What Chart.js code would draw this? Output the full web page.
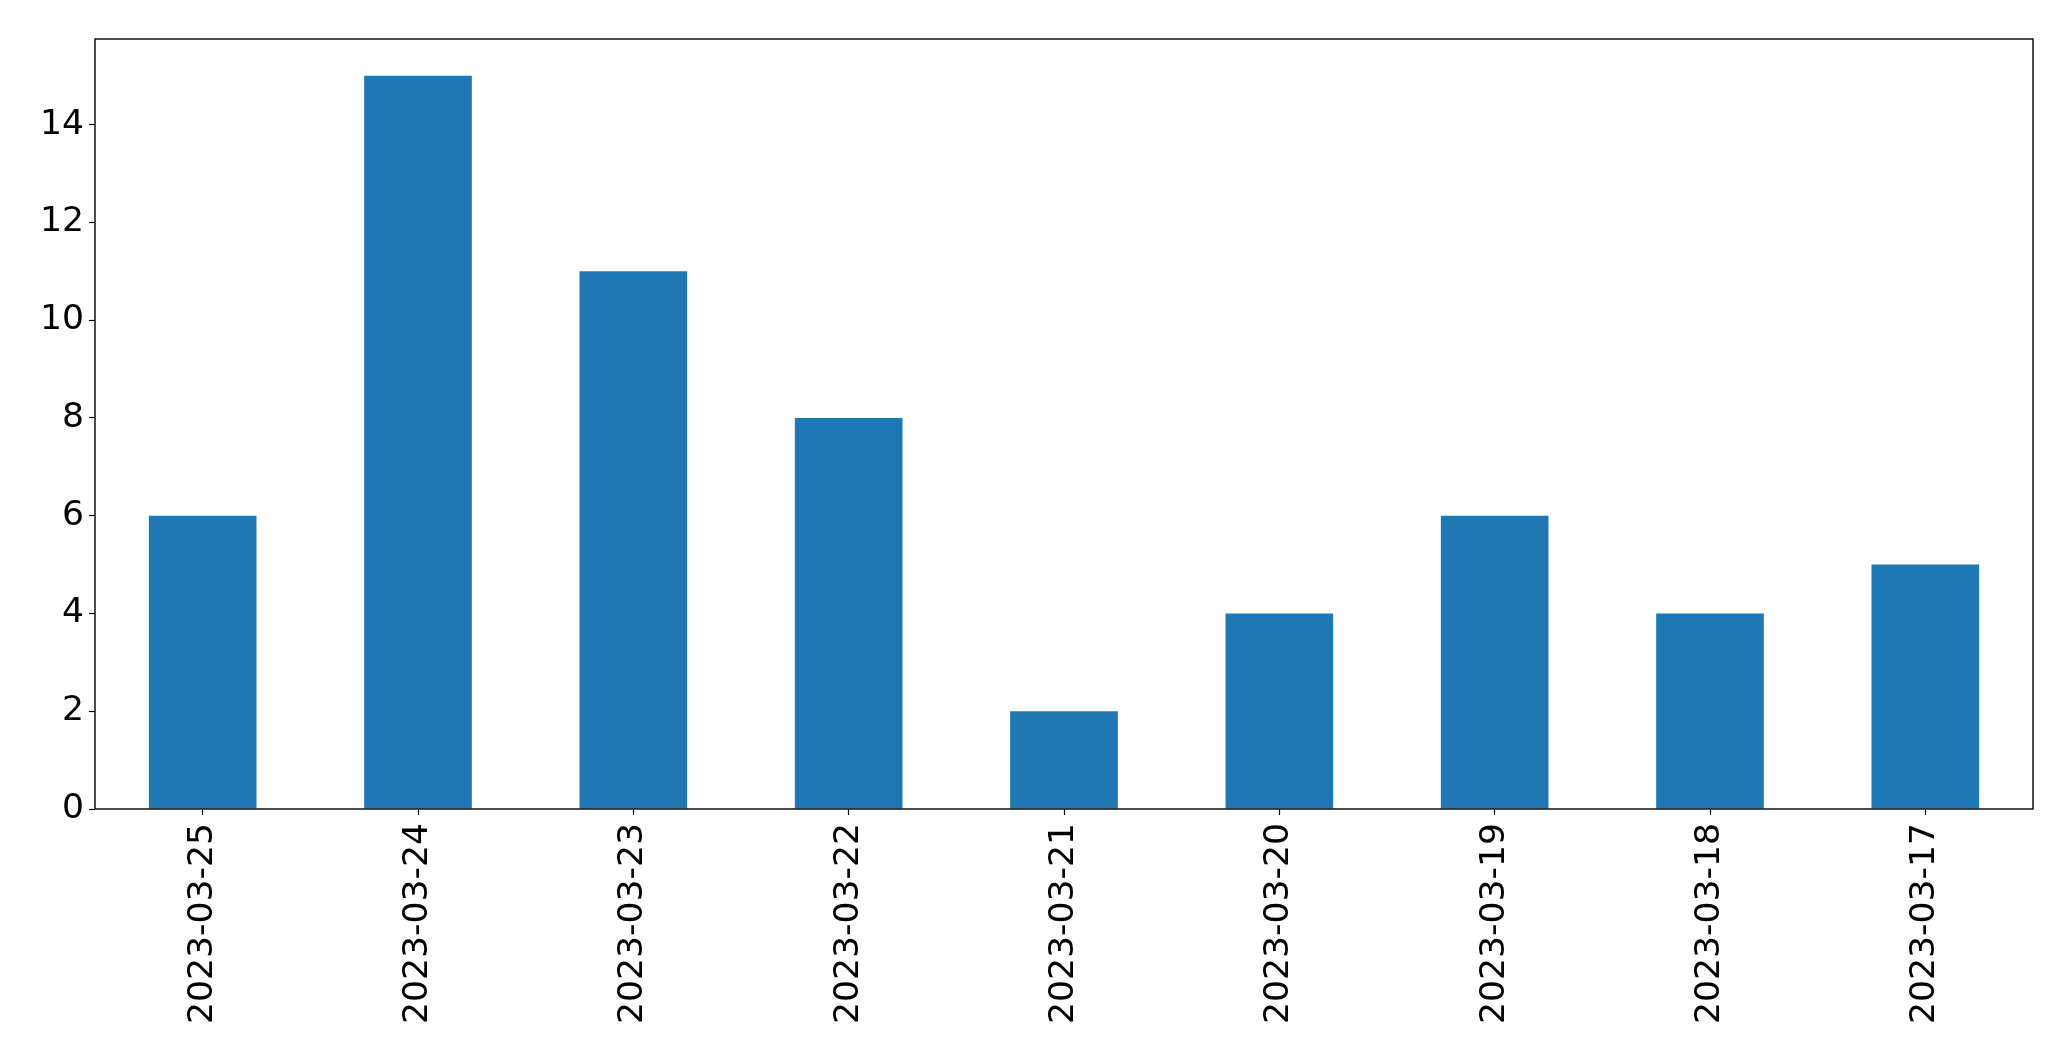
<!DOCTYPE html>
<html>
<head>
<meta charset="utf-8">
<script src="https://cdn.jsdelivr.net/npm/chart.js@4/dist/chart.umd.min.js"></script>
<style>
html,body{margin:0;padding:0;background:#fff;}
#wrap{width:2071px;height:1061px;position:relative;}
</style>
</head>
<body>
<div id="wrap"><canvas id="c"></canvas></div>
<script>
const categories = ["2023-03-25","2023-03-24","2023-03-23","2023-03-22","2023-03-21","2023-03-20","2023-03-19","2023-03-18","2023-03-17"];
const values = [6, 15, 11, 8, 2, 4, 6, 4, 5];
const yTicks = [0, 2, 4, 6, 8, 10, 12, 14];
const yMax = 15.75;

const frame = {
  id: 'frame',
  afterDraw(chart) {
    const {ctx, chartArea: a} = chart;
    ctx.save();
    ctx.strokeStyle = '#000';
    ctx.lineWidth = 1.4;
    ctx.strokeRect(a.left, a.top, a.right - a.left, a.bottom - a.top);
    ctx.restore();
  }
};

const font = {family: 'DejaVu Sans', size: 34.6};

new Chart(document.getElementById('c'), {
  type: 'bar',
  data: {
    labels: categories,
    datasets: [{
      data: values,
      backgroundColor: '#1f77b4',
      borderWidth: 0,
      barPercentage: 0.5,
      categoryPercentage: 1.0
    }]
  },
  options: {
    responsive: true,
    maintainAspectRatio: false,
    animation: false,
    layout: {padding: {top: 39, right: 38, left: 0, bottom: 0}},
    plugins: {legend: {display: false}, tooltip: {enabled: false}},
    scales: {
      x: {
        offset: true,
        grid: {display: true, drawOnChartArea: false, drawTicks: true, tickLength: 6, tickColor: '#000', tickWidth: 1.2, offset: false},
        border: {display: false},
        ticks: {color: '#000', font: font, maxRotation: 90, minRotation: 90, padding: 8, autoSkip: false},
        afterFit(scale) { scale.height = 1061 - 809; }
      },
      y: {
        min: 0,
        max: yMax,
        grid: {display: true, drawOnChartArea: false, drawTicks: true, tickLength: 6, tickColor: '#000', tickWidth: 1.2},
        border: {display: false},
        ticks: {color: '#000', font: font, padding: 5},
        afterBuildTicks(scale) { scale.ticks = yTicks.map(v => ({value: v})); },
        afterFit(scale) { scale.width = 95; }
      }
    }
  },
  plugins: [frame]
});
</script>
</body>
</html>
